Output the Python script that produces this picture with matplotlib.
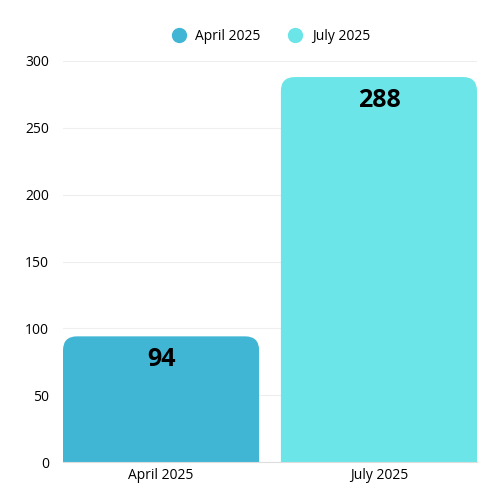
import matplotlib
matplotlib.use("Agg")
import matplotlib.pyplot as plt
from matplotlib.path import Path
from matplotlib.patches import PathPatch
from matplotlib.lines import Line2D

categories = ["April 2025", "July 2025"]
values = [94, 288]
colors = ["#41B6D4", "#6BE5E8"]

plt.rcParams['font.family'] = ['Open Sans', 'DejaVu Sans']

fig = plt.figure(figsize=(5, 5), dpi=100)
ax = fig.add_axes([0.126, 0.076, 0.828, 0.802])
width = 0.9
ax.set_xlim(-width / 2, len(categories) - 1 + width / 2)
ax.set_ylim(0, 300)

# radius of rounded corners in pixels, converted to data units per axis
r_px = 14
ax_w_px = 0.828 * 500
ax_h_px = 0.802 * 500
rx = r_px * (len(categories) - 1 + width) / ax_w_px
ry = r_px * 300 / ax_h_px

for i, (v, c) in enumerate(zip(values, colors)):
    x0, x1 = i - width / 2, i + width / 2
    verts = [(x0, 0), (x0, v - ry), (x0, v), (x0 + rx, v),
             (x1 - rx, v), (x1, v), (x1, v - ry), (x1, 0), (x0, 0)]
    codes = [Path.MOVETO, Path.LINETO, Path.CURVE3, Path.CURVE3,
             Path.LINETO, Path.CURVE3, Path.CURVE3, Path.LINETO, Path.CLOSEPOLY]
    ax.add_patch(PathPatch(Path(verts, codes), facecolor=c, edgecolor="none", zorder=2))
    ax.text(i, v - 8, str(v), ha="center", va="top", fontsize=18,
            fontweight="bold", color="black", zorder=3)

ax.set_xticks(range(len(categories)))
ax.set_xticklabels(categories, fontsize=10)
ax.set_yticks(range(0, 301, 50))
ax.tick_params(axis="y", labelsize=10, length=0, pad=10)
ax.tick_params(axis="x", length=0, pad=4)
ax.grid(axis="y", color="#eeeeee", linewidth=0.8, zorder=0)
for s in ["top", "right", "left"]:
    ax.spines[s].set_visible(False)
ax.spines["bottom"].set_color("#dddddd")

handles = [Line2D([], [], marker="o", linestyle="", markersize=10,
                  markerfacecolor=c, markeredgecolor=c) for c in colors]
fig.legend(handles, categories, loc="center", bbox_to_anchor=(0.535, 0.928),
           ncol=2, frameon=False, fontsize=10, handletextpad=0.2, columnspacing=1.5)

fig.savefig("out.png", dpi=100, facecolor="white")
